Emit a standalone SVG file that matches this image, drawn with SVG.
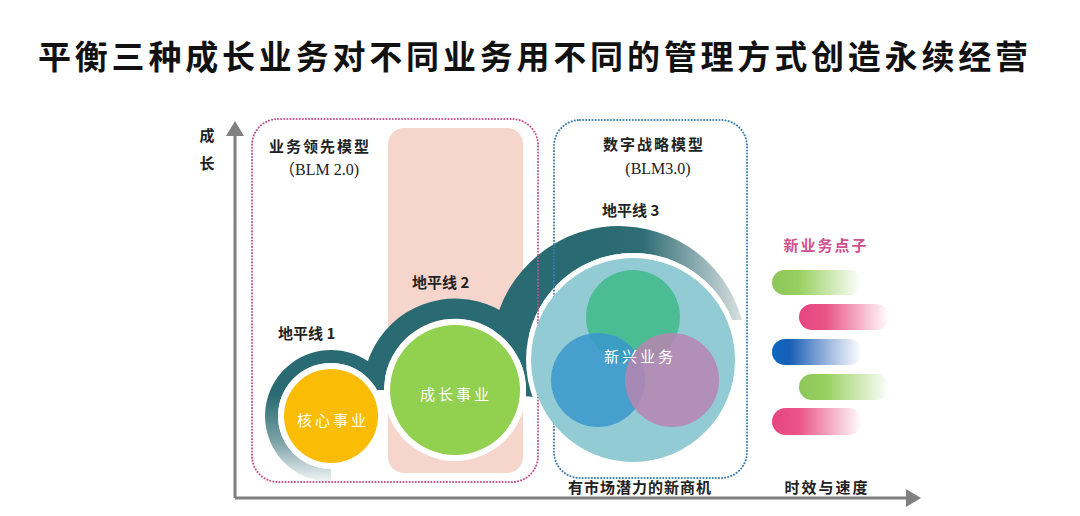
<svg xmlns="http://www.w3.org/2000/svg" width="1080" height="516" viewBox="0 0 1080 516">
<defs>
<style>
.cjk{font-family:"Noto Sans CJK SC","Liberation Serif",serif;}
.lbl{font-family:"Liberation Serif","Noto Sans CJK SC",serif;font-size:16px;fill:#222;}
.wt{font-family:"Noto Sans CJK SC",serif;font-size:15px;fill:#fff;letter-spacing:3px;}
.axis{stroke:#808080;stroke-width:3;fill:none;}
.teal{fill:#2a6a72;}
.white{fill:#fff;}
</style>
<marker id="ah" markerWidth="6" markerHeight="6" refX="4" refY="3" orient="auto" markerUnits="strokeWidth">
<path d="M0,0 L5,3 L0,6 Z" fill="#808080"/>
</marker>
<linearGradient id="g1" gradientUnits="userSpaceOnUse" x1="0" y1="395" x2="0" y2="482">
<stop offset="0" stop-color="#2a6a72"/>
<stop offset="0.55" stop-color="#7fa4a9"/>
<stop offset="1" stop-color="#f2f5f6"/>
</linearGradient>
<linearGradient id="g3" gradientUnits="userSpaceOnUse" x1="600" y1="0" x2="742" y2="0">
<stop offset="0" stop-color="#2a6a72"/>
<stop offset="0.3" stop-color="#2f6d75"/>
<stop offset="1" stop-color="#d9e0e1"/>
</linearGradient>
<linearGradient id="pg" x1="0" y1="0" x2="1" y2="0">
<stop offset="0" stop-color="#8cc65a"/>
<stop offset="0.3" stop-color="#98d060"/>
<stop offset="1" stop-color="#98d060" stop-opacity="0"/>
</linearGradient>
<linearGradient id="pp" x1="0" y1="0" x2="1" y2="0">
<stop offset="0" stop-color="#e6457e"/>
<stop offset="0.3" stop-color="#ea5588"/>
<stop offset="1" stop-color="#ea5588" stop-opacity="0"/>
</linearGradient>
<linearGradient id="pb" x1="0" y1="0" x2="1" y2="0">
<stop offset="0" stop-color="#0c66c0"/>
<stop offset="0.2" stop-color="#1a5fb5"/>
<stop offset="1" stop-color="#3a6fc0" stop-opacity="0"/>
</linearGradient>
</defs>
<rect width="1080" height="516" fill="#fff"/>

<g id="title">
<text x="38" y="69" class="cjk" font-size="33" font-weight="bold" fill="#111" textLength="990" lengthAdjust="spacing">平衡三种成长业务对不同业务用不同的管理方式创造永续经营</text>
</g>

<g id="axes">
<path class="axis" d="M235,498 L235,124" marker-end="url(#ah)"/>
<path class="axis" d="M235,498 L918,498" marker-end="url(#ah)"/>
<text x="207" y="141" class="cjk" font-size="15" font-weight="bold" fill="#222" text-anchor="middle">成</text>
<text x="207" y="169" class="cjk" font-size="15" font-weight="bold" fill="#222" text-anchor="middle">长</text>
<text x="827" y="493" class="cjk" font-size="15" font-weight="bold" fill="#222" text-anchor="middle" letter-spacing="2">时效与速度</text>
</g>

<g id="growth-zone">
<rect x="388" y="128" width="135" height="345" rx="16" fill="#f6d5cd"/>
</g>

<g id="horizons">
<path id="ring1" fill="url(#g1)" d="M331,482 A66,66 0 1 1 388.2,383 L376.9,389.5 A53,53 0 1 0 331,469 Z"/>
<path id="ring2" class="teal" d="M363,390 A92,92 0 1 1 546.7,398 L525.7,396.2 A71,71 0 1 0 384,390 Z"/>
<path id="ring3" fill="url(#g3)" d="M491.5,355 A127.5,127.5 0 0 1 742,320 L732.2,320 A107,107 0 0 0 526,360 Z"/>
<circle class="white" cx="331" cy="416" r="53"/>
<circle class="white" cx="455" cy="390" r="71"/>
<circle class="white" cx="633" cy="360" r="107"/>
</g>

<g id="blm2">
<rect x="252" y="119" width="286" height="363" rx="26" fill="none" stroke="#c2508c" stroke-width="2" stroke-dasharray="0.1 3" stroke-linecap="round"/>
<text x="320" y="152" class="cjk" font-size="15" font-weight="bold" fill="#222" text-anchor="middle" letter-spacing="2">业务领先模型</text>
<text x="319" y="175" class="lbl" text-anchor="middle">（BLM 2.0)</text>
</g>

<g id="blm3">
<rect x="554" y="120" width="193" height="358" rx="26" fill="none" stroke="#3b7fb2" stroke-width="2" stroke-dasharray="0.1 3" stroke-linecap="round"/>
<text x="654" y="150" class="cjk" font-size="15" font-weight="bold" fill="#222" text-anchor="middle" letter-spacing="2">数字战略模型</text>
<text x="658" y="174" class="lbl" text-anchor="middle">(BLM3.0)</text>
</g>

<g id="labels">
<text x="278" y="339" class="cjk" font-size="15" font-weight="bold" fill="#222">地平线 1</text>
<text x="412" y="288" class="cjk" font-size="15" font-weight="bold" fill="#222">地平线 2</text>
<text x="602" y="216" class="cjk" font-size="15" font-weight="bold" fill="#222">地平线 3</text>
<text x="640" y="493" class="cjk" font-size="15" font-weight="bold" fill="#222" text-anchor="middle" letter-spacing="1">有市场潜力的新商机</text>
</g>

<g id="core">
<circle cx="331" cy="416" r="47" fill="#fbbc05"/>
<text x="333" y="426" class="wt" text-anchor="middle">核心事业</text>
</g>

<g id="growth">
<circle cx="455" cy="390" r="65" fill="#92d050"/>
<text x="456" y="400" class="wt" text-anchor="middle">成长事业</text>
</g>

<g id="emerging">
<circle cx="633" cy="360" r="102" fill="#93cbd5"/>
<circle cx="633" cy="317" r="47" fill="#45bb8f" opacity="0.92"/>
<circle cx="598" cy="380" r="47" fill="#3a98cc" opacity="0.85"/>
<circle cx="672" cy="380" r="47" fill="#b785b0" opacity="0.85"/>
<text x="640" y="362" class="wt" text-anchor="middle" letter-spacing="2">新兴业务</text>
</g>

<g id="ideas">
<text x="826" y="251" class="cjk" font-size="15" font-weight="bold" fill="#d05090" text-anchor="middle" letter-spacing="2">新业务点子</text>
<rect x="772" y="270" width="90" height="25" rx="12.5" fill="url(#pg)"/>
<rect x="799" y="304" width="90" height="26" rx="13" fill="url(#pp)"/>
<rect x="772" y="339" width="90" height="26" rx="13" fill="url(#pb)"/>
<rect x="799" y="374" width="90" height="26" rx="13" fill="url(#pg)"/>
<rect x="772" y="408" width="90" height="27" rx="13.5" fill="url(#pp)"/>
</g>
</svg>
